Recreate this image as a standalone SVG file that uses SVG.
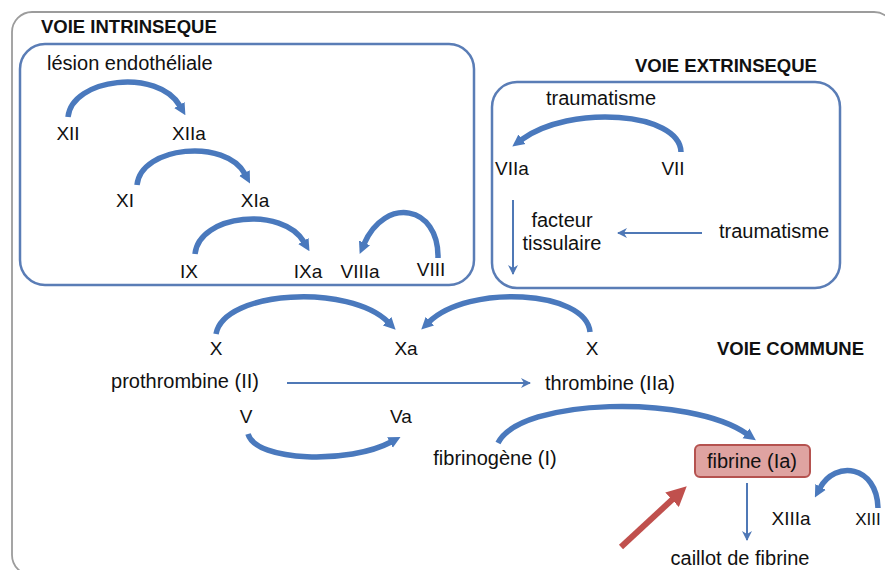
<svg xmlns="http://www.w3.org/2000/svg" width="885" height="570" viewBox="0 0 885 570">
<defs>
<style>
text{font-family:"Liberation Sans",Arial,sans-serif;fill:#111111;}
.h{font-size:18.5px;font-weight:bold;}
.t{font-size:20px;}
.l{font-size:19px;text-anchor:middle;}
.m{text-anchor:middle;}
.box{fill:none;stroke:#5a7db6;stroke-width:2.5;}
.arc{fill:none;stroke:#4a79bd;stroke-width:5.5;stroke-linecap:butt;marker-end:url(#ah);}
.thin{fill:none;stroke:#4f78b6;stroke-width:2;marker-end:url(#th);}
</style>
<marker id="ah" viewBox="0 0 10 10" refX="1" refY="5" markerWidth="12" markerHeight="13" markerUnits="userSpaceOnUse" orient="auto">
<path d="M0,0 L10,5 L0,10 z" fill="#4a79bd"/>
</marker>
<marker id="th" viewBox="0 0 10 10" refX="9" refY="5" markerWidth="10" markerHeight="10" markerUnits="userSpaceOnUse" orient="auto">
<path d="M0,0 L10,5 L0,10 L3,5 z" fill="#4f78b6"/>
</marker>
<marker id="rh" viewBox="0 0 10 10" refX="2" refY="5" markerWidth="20" markerHeight="20" markerUnits="userSpaceOnUse" orient="auto">
<path d="M0,0 L10,5 L0,10 z" fill="#c0504d"/>
</marker>
</defs>
<rect width="885" height="570" fill="#ffffff"/>
<rect id="frame" x="12" y="12" width="882" height="563" rx="20" fill="none" stroke="#9c9c9c" stroke-width="1.8"/>

<g id="intrinseque">
<text class="h" x="41" y="33">VOIE INTRINSEQUE</text>
<rect class="box" x="20" y="44" width="454" height="241" rx="25"/>
<text class="t" x="47" y="70">lésion endothéliale</text>
</g>
<g id="n-XII"><text class="l" x="68" y="140">XII</text></g>
<g id="n-XIIa"><text class="l" x="189" y="140">XIIa</text></g>
<g id="n-XI"><text class="l" x="125" y="207">XI</text></g>
<g id="n-XIa"><text class="l" x="255" y="207">XIa</text></g>
<g id="n-IX"><text class="l" x="189" y="278">IX</text></g>
<g id="n-IXa"><text class="l" x="308" y="278">IXa</text></g>
<g id="n-VIIIa"><text class="l" x="360" y="278">VIIIa</text></g>
<g id="n-VIII"><text class="l" x="431" y="276">VIII</text></g>

<g id="extrinseque">
<text class="h" x="635" y="72">VOIE EXTRINSEQUE</text>
<rect class="box" x="492" y="82" width="348" height="206" rx="25"/>
</g>
<g id="n-trauma1"><text class="t m" x="601" y="105">traumatisme</text></g>
<g id="n-VIIa"><text class="l" x="512" y="175">VIIa</text></g>
<g id="n-VII"><text class="l" x="673" y="175">VII</text></g>
<g id="n-facteur"><text class="t m" x="562" y="227">facteur</text><text class="t m" x="562" y="250">tissulaire</text></g>
<g id="n-trauma2"><text class="t m" x="774" y="238">traumatisme</text></g>

<g id="commune"><text class="h" x="717" y="355">VOIE COMMUNE</text></g>
<g id="n-X1"><text class="l" x="216" y="355">X</text></g>
<g id="n-Xa"><text class="l" x="406" y="355">Xa</text></g>
<g id="n-X2"><text class="l" x="592" y="355">X</text></g>
<g id="n-prothrombine"><text class="t m" x="185" y="388">prothrombine (II)</text></g>
<g id="n-thrombine"><text class="t m" x="610" y="390">thrombine (IIa)</text></g>
<g id="n-V"><text class="l" x="246" y="423">V</text></g>
<g id="n-Va"><text class="l" x="401" y="423">Va</text></g>
<g id="n-fibrinogene"><text class="t m" x="495" y="465">fibrinogène (I)</text></g>
<g id="n-fibrine">
<rect x="695" y="445" width="115" height="32" rx="5" fill="#dfa3a1" stroke="#b5524f" stroke-width="2"/>
<text class="t m" x="752" y="468">fibrine (Ia)</text>
</g>
<g id="n-caillot"><text class="t m" x="740" y="565">caillot de fibrine</text></g>
<g id="n-XIIIa"><text class="l" x="791" y="525">XIIIa</text></g>
<g id="n-XIII"><text class="l" x="868" y="525" style="font-size:17px">XIII</text></g>

<g id="connectors">
<path class="arc" d="M68,117 C72,78 158,68 180,106"/>
<path class="arc" d="M137,185 C141,146 226,138 245,174"/>
<path class="arc" d="M195,254 C199,214 283,206 304,242"/>
<path class="arc" d="M438,258 C439,205 385,196 364,244"/>
<path class="arc" d="M681,152 C680,112 570,104 521,140"/>
<path class="arc" d="M216,334 C224,290 350,284 388,322"/>
<path class="arc" d="M590,332 C586,290 468,284 429,322"/>
<path class="arc" d="M248,434 C256,462 350,464 391,442"/>
<path class="arc" d="M498,443 C520,398 690,394 747,434"/>
<path class="arc" d="M878,508 C877,465 835,460 820,488"/>
<path class="thin" d="M513,200 L513,274"/>
<path class="thin" d="M702,233 L618,233"/>
<path class="thin" d="M287,383 L530,383"/>
<path class="thin" d="M747,483 L747,540"/>
<path d="M621,547 L675,497" fill="none" stroke="#c0504d" stroke-width="6" marker-end="url(#rh)"/>
</g>
</svg>
